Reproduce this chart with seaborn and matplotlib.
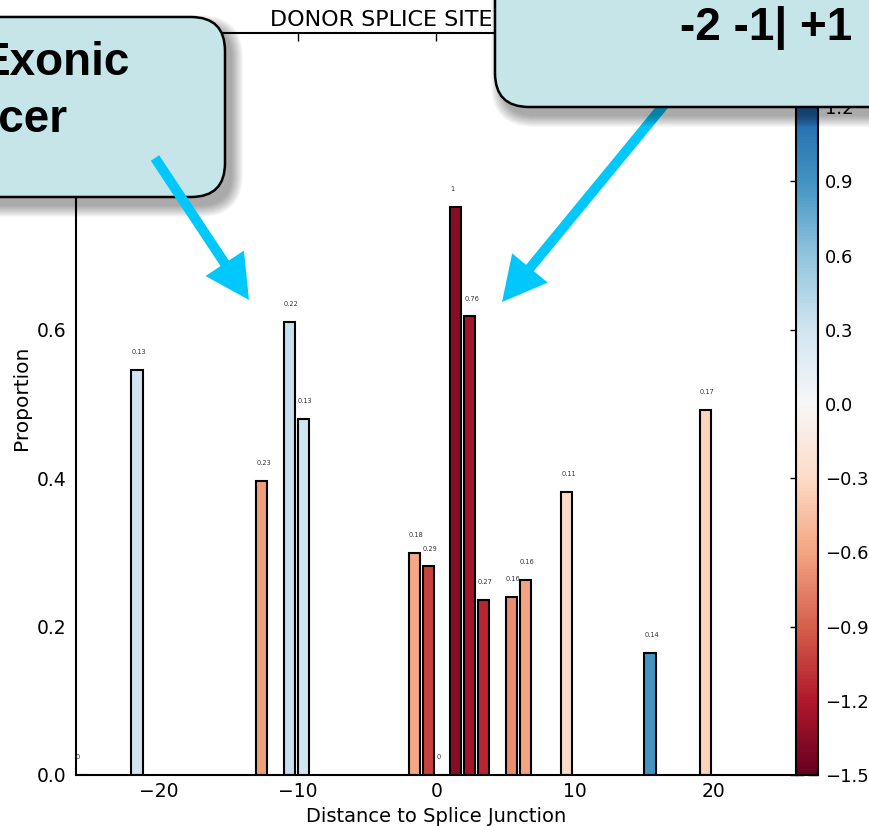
import numpy as np
import pandas as pd
import matplotlib
matplotlib.use('Agg')
import matplotlib.pyplot as plt
from matplotlib.patches import FancyBboxPatch, FancyArrow
import seaborn as sns

# bar positions (left edge, distance to splice junction)
sites = [-26, -22, -13, -11, -10, -2, -1, 0, 1, 2, 3, 5, 6, 9, 15, 19]
proportion = [0.0, 0.546, 0.396, 0.611, 0.480, 0.299, 0.281, 0.0,
              0.766, 0.618, 0.236, 0.240, 0.263, 0.381, 0.164, 0.492]
bar_labels = ['0', '0.13', '0.23', '0.22', '0.13', '0.18', '0.29', '0',
              '1', '0.76', '0.27', '0.16', '0.16', '0.11', '0.14', '0.17']
score = [0.0, 0.30, -0.63, 0.36, 0.30, -0.58, -1.02, 0.0,
         -1.35, -1.25, -1.14, -0.70, -0.60, -0.30, 0.90, -0.35]
cbar_ticks = [-1.5, -1.2, -0.9, -0.6, -0.3, 0.0, 0.3, 0.6, 0.9, 1.2, 1.5]
xticks = [-20, -10, 0, 10, 20]
yticks = [0.0, 0.2, 0.4, 0.6, 0.8, 1.0]

sns.set_style('white')
plt.rcParams['font.family'] = ['DejaVu Sans']
plt.rcParams['axes.edgecolor'] = 'black'
plt.rcParams['axes.linewidth'] = 1.5
for k in ['text.color', 'axes.labelcolor', 'xtick.color', 'ytick.color']:
    plt.rcParams[k] = 'black'

df = pd.DataFrame({'site': sites, 'proportion': proportion, 'score': score})
df['center'] = df['site'] + 0.4
df['key'] = df['site'].astype(str)

norm = plt.Normalize(-1.5, 1.5)
cmap = plt.get_cmap('RdBu')
palette = {k: cmap(norm(s)) for k, s in zip(df['key'], df['score'])}

W, H = 870, 826
fig = plt.figure(figsize=(W / 100, H / 100), dpi=100)
ax = fig.add_axes([76 / W, 1 - 775 / H, (797 - 76) / W, (775 - 33) / H])
cax = fig.add_axes([796 / W, 1 - 775 / H, 22 / W, (775 - 33) / H])

sns.barplot(data=df, x='center', y='proportion', hue='key', palette=palette,
            native_scale=True, dodge=False, legend=False, saturation=1,
            edgecolor='black', linewidth=1.5, errorbar=None, ax=ax)

for s, h, lab in zip(sites, proportion, bar_labels):
    ax.text(s, h + 0.02, lab, fontsize=4.8, ha='left', va='bottom', color='#333333')

ax.set_xlim(-26, 26)
ax.set_ylim(0, 1.0)
ax.set_xticks(xticks)
ax.set_yticks(yticks)
ax.tick_params(axis='x', direction='in', top=True, length=6, width=1, labelsize=13.5, pad=5)
ax.tick_params(axis='y', direction='inout', right=True, length=10, width=1, labelsize=13.5, pad=2)
ax.set_xlabel('Distance to Splice Junction', fontsize=14)
ax.set_ylabel('Proportion', fontsize=14.5)
ax.yaxis.set_label_coords(-0.062, 0.509)
ax.text(0.269, 1 + 7 / 742, 'DONOR SPLICE SITE', transform=ax.transAxes,
        ha='left', va='baseline', fontsize=16)

sm = plt.cm.ScalarMappable(cmap=cmap, norm=norm)
cb = fig.colorbar(sm, cax=cax, ticks=cbar_ticks)
cb.outline.set_linewidth(1.5)
cax.tick_params(direction='in', length=7, width=1, labelsize=13, pad=5)

# callout overlay in pixel coordinates
ov = fig.add_axes([0, 0, 1, 1], zorder=10)
ov.set_xlim(0, W)
ov.set_ylim(H, 0)
ov.axis('off')
ov.patch.set_alpha(0)


def callout(x0, y0, w, h, z):
    for i in range(12):
        ov.add_patch(FancyBboxPatch((x0 + 7 - i, y0 + 9 - i), w + 2 * i, h + 2 * i,
                                    boxstyle=f'round,pad=0,rounding_size={32 + i}',
                                    fc='black', ec='none', alpha=0.03, zorder=z))
    ov.add_patch(FancyBboxPatch((x0, y0), w, h, boxstyle='round,pad=0,rounding_size=34',
                                fc='#c5e5e8', ec='black', lw=1.8, zorder=z + 1))


arrow_kw = dict(width=10, head_width=46, head_length=44, length_includes_head=True,
                color='#00c8fc', lw=0)
callout(-60, 17, 285, 180, 2)
ov.add_patch(FancyArrow(155, 158, 94, 142, zorder=4, **arrow_kw))
ov.add_patch(FancyArrow(668, 100, -166, 202, zorder=1, **arrow_kw))
callout(495, -60, 450, 167, 5)

bold = dict(fontsize=33, fontweight='bold', family='Liberation Sans', va='baseline',
            ha='right', color='black')
ov.text(130, 75, 'Exonic', zorder=8, **bold)
ov.text(68, 132, 'Enhancer', zorder=8, **bold)
ov.text(852, 40, '-2 -1| +1', zorder=8, **bold)

fig.savefig('out.png', dpi=100)
